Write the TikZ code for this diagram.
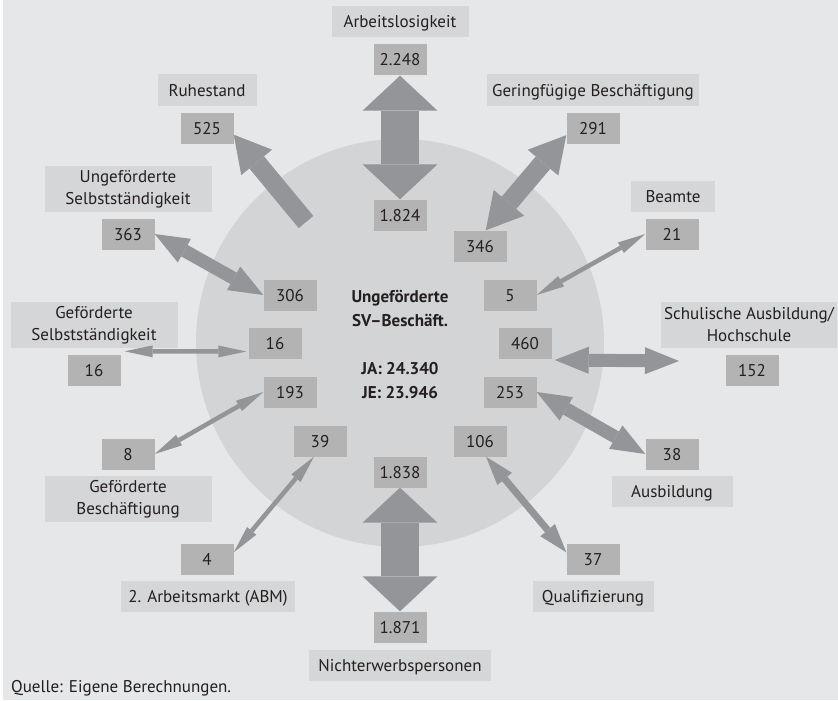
\documentclass[tikz,border=0pt]{standalone}
\usepackage{fontspec}
\setmainfont{PT Sans}
\usetikzlibrary{arrows.meta}

\definecolor{chgrund}{HTML}{E6E7E8}
\definecolor{ckreis}{HTML}{D3D4D5}
\definecolor{czahl}{HTML}{B3B3B4}
\definecolor{cetikett}{HTML}{D5D6D7}
\definecolor{cpfeil}{HTML}{939598}
\definecolor{cschrift}{HTML}{231F20}

\begin{document}
\begin{tikzpicture}[x=1pt, y=-1pt,
    font=\fontsize{17}{22}\selectfont, text=cschrift,
    zahl/.style={fill=czahl, minimum width=53pt, minimum height=31pt, inner sep=0pt, text height=12pt, text depth=0pt},
    etikett/.style={fill=cetikett, minimum height=31pt, inner sep=0pt, text height=12pt, text depth=0pt},
    etikettzwei/.style={fill=cetikett, minimum height=46pt, inner sep=0pt, align=center},
    dickpfeil/.style={draw=cpfeil, line width=38pt, >={Triangle[width=75pt,length=35pt,line width=0pt]}, <->},
    breitpfeil/.style={draw=cpfeil, line width=19pt, >={Triangle[width=40pt,length=36pt,line width=0pt]}},
    mittelpfeil/.style={draw=cpfeil, line width=13pt, >={Triangle[width=27pt,length=34pt,line width=0pt]}, <->},
    qualpfeil/.style={draw=cpfeil, line width=7pt, >={Triangle[width=19pt,length=29pt,line width=0pt]}, <->},
    duennpfeil/.style={draw=cpfeil, line width=4.5pt, >={Triangle[width=12pt,length=28pt,line width=0pt]}, <->}]

  % Hintergrund und Kreis
  \fill[white] (0,0) rectangle (838,701);
  \fill[chgrund] (3,0) rectangle (838,700);
  \fill[ckreis] (400,343) circle[radius=204];

  % Mitte
  \node[font=\fontsize{17}{24}\selectfont\bfseries, align=center] (mitte) at (400,344)
    {Ungeförderte\\SV–Beschäft.\\[24pt]JA: 24.340\\JE: 23.946};

  % Arbeitslosigkeit
  \node[etikett, minimum width=137pt] (alo-lbl) at (400,22) {Arbeitslosigkeit};
  \node[zahl] (alo-aus) at (400,60) {2.248};
  \node[zahl] (alo-in) at (400,215) {1.824};

  % Ruhestand
  \node[etikett, minimum width=99pt] (ruh-lbl) at (207,90) {Ruhestand};
  \node[zahl] (ruh-aus) at (207,128) {525};
  \coordinate (ruh-start) at (306,222);

  % Geringfuegige Beschaeftigung
  \node[etikett, minimum width=212pt] (gering-lbl) at (593,90) {Geringfügige Beschäftigung};
  \node[zahl] (gering-aus) at (593,128) {291};
  \node[zahl] (gering-in) at (480,246) {346};

  % Ungefoerderte Selbststaendigkeit
  \node[etikettzwei, minimum width=167pt] (uself-lbl) at (128,189) {Ungeförderte\\Selbstständigkeit};
  \node[zahl] (uself-aus) at (128,234) {363};
  \node[zahl] (uself-in) at (290,295) {306};

  % Beamte
  \node[etikett, minimum width=84pt] (bea-lbl) at (673,196) {Beamte};
  \node[zahl] (bea-aus) at (672,234) {21};
  \node[zahl] (bea-in) at (510,295) {5};

  % Gefoerderte Selbststaendigkeit
  \node[etikettzwei, minimum width=167pt] (gself-lbl) at (94,325) {Geförderte\\Selbstständigkeit};
  \node[zahl] (gself-aus) at (94,370) {16};
  \node[zahl] (gself-in) at (275,343) {16};

  % Schulische Ausbildung/Hochschule
  \node[etikettzwei, minimum width=176pt] (schul-lbl) at (749,325) {Schulische Ausbildung/\\Hochschule};
  \node[zahl] (schul-aus) at (752,370) {152};
  \node[zahl] (schul-in) at (525,343) {460};
  \coordinate (schul-ende) at (679,361);

  % Gefoerderte Beschaeftigung
  \node[zahl] (gbes-aus) at (128,454) {8};
  \node[etikettzwei, minimum width=167pt] (gbes-lbl) at (128,499) {Geförderte\\Beschäftigung};
  \node[zahl] (gbes-in) at (290,392) {193};

  % Ausbildung
  \node[zahl] (ausb-aus) at (672,454) {38};
  \node[etikett, minimum width=121pt] (ausb-lbl) at (672,491) {Ausbildung};
  \node[zahl] (ausb-in) at (510,392) {253};

  % 2. Arbeitsmarkt
  \node[zahl] (abm-aus) at (207,559) {4};
  \node[etikett, minimum width=174pt] (abm-lbl) at (208,596) {2. Arbeitsmarkt (ABM)};
  \node[zahl] (abm-in) at (320,441) {39};

  % Qualifizierung
  \node[zahl] (qua-aus) at (593,559) {37};
  \node[etikett, minimum width=121pt] (qua-lbl) at (593,596) {Qualifizierung};
  \node[zahl] (qua-in) at (480,441) {106};

  % Nichterwerbspersonen
  \node[zahl] (nie-in) at (400,472) {1.838};
  \node[zahl] (nie-aus) at (400,627) {1.871};
  \node[etikett, minimum width=182pt] (nie-lbl) at (400,665) {Nichterwerbspersonen};

  % Pfeile
  \draw[dickpfeil] (alo-aus.south) -- (alo-in.north);
  \draw[dickpfeil] (nie-in.south) -- (nie-aus.north);
  \draw[breitpfeil, ->] (ruh-start) -- (ruh-aus.-14);
  \draw[breitpfeil, <->] (gering-in.70) -- (gering-aus.195);
  \draw[mittelpfeil] (uself-aus.east) -- (uself-in.west);
  \draw[duennpfeil] (bea-in.east) -- (bea-aus.west);
  \draw[duennpfeil] ([xshift=4pt,yshift=3pt]gself-aus.north east) -- ([xshift=-2pt,yshift=-8.5pt]gself-in.west);
  \draw[mittelpfeil] ([xshift=3pt,yshift=-17pt]schul-in.east) -- (schul-ende);
  \draw[duennpfeil] (gbes-aus.east) -- (gbes-in.west);
  \draw[mittelpfeil] (ausb-in.east) -- (ausb-aus.west);
  \draw[duennpfeil] (abm-aus.14) -- (abm-in.249);
  \draw[qualpfeil] (qua-in.-69) -- (qua-aus.166);

  % Quelle
  \node[anchor=west, inner sep=0pt, text height=12pt, text depth=0pt] (quelle) at (11,686) {Quelle: Eigene Berechnungen.};

\end{tikzpicture}
\end{document}
